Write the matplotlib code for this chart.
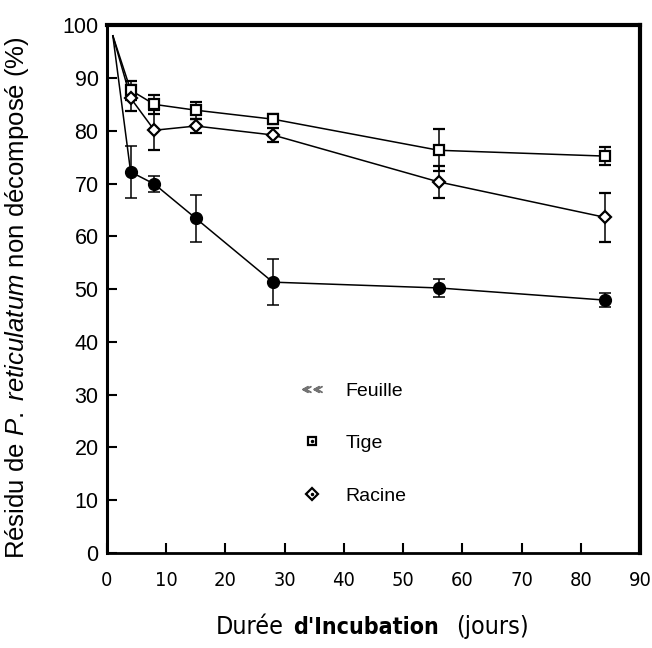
"""Residu non decompose de P. reticulatum en fonction de la duree d'incubation."""

import matplotlib

matplotlib.use("Agg")
import matplotlib.pyplot as plt
from matplotlib import font_manager
from matplotlib.lines import Line2D
from matplotlib.legend_handler import HandlerTuple

plt.rcParams["font.family"] = ["Liberation Sans", "DejaVu Sans"]
plt.rcParams["mathtext.fontset"] = "custom"
plt.rcParams["mathtext.rm"] = "Liberation Sans"
plt.rcParams["mathtext.it"] = "Liberation Sans:italic"

# jours d'incubation
days = [1, 4, 8, 15, 28, 56, 84]

feuille = [98, 72.2, 69.9, 63.4, 51.3, 50.2, 47.9]
feuille_err = [0, 5.0, 1.6, 4.5, 4.3, 1.7, 1.4]

tige = [98, 87.7, 85.0, 83.9, 82.2, 76.3, 75.2]
tige_err = [0, 1.8, 1.8, 1.6, 1.0, 4.0, 1.7]

racine = [98, 86.2, 80.1, 80.9, 79.2, 70.3, 63.6]
racine_err = [0, 2.5, 3.8, 1.3, 1.3, 3.0, 4.6]

x_ticks = [0, 10, 20, 30, 40, 50, 60, 70, 80, 90]
y_ticks = [0, 10, 20, 30, 40, 50, 60, 70, 80, 90, 100]

# condensed font for the x axis texts, if one is installed
names = {f.name for f in font_manager.fontManager.ttflist}
narrow_stretch = "normal"
if "Liberation Sans Narrow" in names:
    narrow = ["Liberation Sans Narrow"]
    narrow_scale = 1.0
else:
    condensed = [f for f in font_manager.fontManager.ttflist
                 if f.name == "DejaVu Sans" and f.stretch == "condensed"]
    if condensed:
        narrow = ["DejaVu Sans"]
        narrow_stretch = "condensed"
        narrow_scale = 0.9
    else:
        narrow = ["Liberation Sans"]
        narrow_scale = 0.82

fig = plt.figure(figsize=(6.52, 6.48), dpi=100)
ax = fig.add_axes([0.164, 0.147, 0.818, 0.814])

err_kw = dict(ls="none", ecolor="black", elinewidth=1.1, capsize=4.5, capthick=1.1)

for values in (feuille, tige, racine):
    ax.plot(days, values, color="black", lw=1.1)

ax.errorbar(days[1:], feuille[1:], yerr=feuille_err[1:], marker="o", ms=8.5,
            mfc="black", mec="black", **err_kw)
ax.errorbar(days[1:], tige[1:], yerr=tige_err[1:], marker="s", ms=6.5,
            mfc="white", mec="black", mew=1.6, **err_kw)
ax.errorbar(days[1:], racine[1:], yerr=racine_err[1:], marker="D", ms=6.5,
            mfc="white", mec="black", mew=1.6, **err_kw)
# small dots inside open markers
ax.plot(days[1:], tige[1:], ls="none", marker="o", ms=1.5, color="black")
ax.plot(days[1:], racine[1:], ls="none", marker="o", ms=1.5, color="black")

ax.set_xlim(0, 90)
ax.set_ylim(0, 100)
ax.set_xticks(x_ticks)
ax.set_yticks(y_ticks)
ax.set_xticklabels([str(t) for t in x_ticks], family=narrow,
                   fontstretch=narrow_stretch, fontsize=16 * narrow_scale)
ax.set_yticklabels([str(t) for t in y_ticks], fontsize=15.5)
ax.tick_params(axis="both", direction="in", length=7, width=1.5, color="black")
ax.tick_params(axis="x", pad=13)
ax.tick_params(axis="y", pad=6)

for side, w in [("left", 2.2), ("bottom", 2.0), ("top", 3.0), ("right", 3.0)]:
    ax.spines[side].set_linewidth(w)

ax.set_ylabel(r"Résidu de $\it{P.\ reticulatum}$ non décomposé (%)",
              fontsize=18.5)
ax.yaxis.set_label_coords(-0.142, 0.484)

lab_y = 0.032
fig.text(0.383, lab_y, "Durée", fontsize=20 * narrow_scale, family=narrow,
         fontstretch=narrow_stretch, ha="center", va="center")
fig.text(0.562, lab_y, "d'Incubation", fontsize=18.5 * narrow_scale, family=narrow,
         fontstretch=narrow_stretch, ha="center", va="center", fontweight="bold")
fig.text(0.755, lab_y, "(jours)", fontsize=20 * narrow_scale, family=narrow,
         fontstretch=narrow_stretch, ha="center", va="center")

dot = Line2D([], [], ls="none", marker="o", ms=1.5, color="black")
h_feuille = Line2D([], [], ls="none", marker=r"$\ll\!\ll$", ms=14, color="0.45")
h_tige = (Line2D([], [], ls="none", marker="s", ms=6, mfc="white", mec="black", mew=1.6), dot)
h_racine = (Line2D([], [], ls="none", marker="D", ms=6, mfc="white", mec="black", mew=1.6), dot)
ax.legend([h_feuille, h_tige, h_racine], ["Feuille", "Tige", "Racine"],
          handler_map={tuple: HandlerTuple(ndivide=1)},
          loc="upper left", bbox_to_anchor=(0.325, 0.357), frameon=False,
          fontsize=14, labelspacing=1.8, handletextpad=0.95, handlelength=1.5)

fig.savefig("out.png", dpi=100)
